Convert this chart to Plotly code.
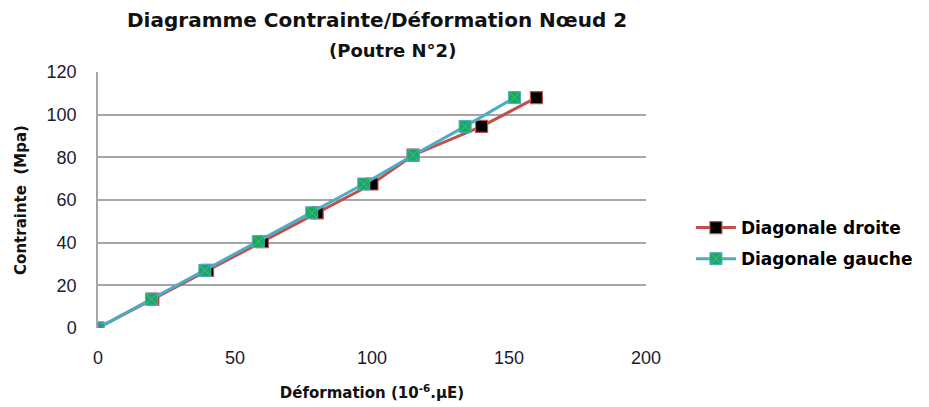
import plotly.graph_objects as go

# Data
stress = [0, 13.5, 27, 40.5, 54, 67.5, 81, 94.5, 108]
strain_droite = [0, 20, 40, 60, 80, 100, 115, 140, 160]
strain_gauche = [0, 19.5, 39, 58.5, 78, 97, 115, 134, 152]
x_ticks = [0, 50, 100, 150, 200]
y_ticks = [0, 20, 40, 60, 80, 100, 120]

fig = go.Figure()
fig.add_trace(go.Scatter(
    x=strain_droite, y=stress, mode="lines+markers", name="Diagonale droite",
    legendgroup="a",
    line=dict(color="#c0504d", width=3),
    marker=dict(symbol="square", size=12, color="#000000",
                line=dict(color="#c0504d", width=1.2)),
))
fig.add_trace(go.Scatter(
    x=strain_gauche, y=stress, mode="lines+markers", name="Diagonale gauche",
    legendgroup="b",
    line=dict(color="#4bacc6", width=3),
    marker=dict(symbol="square-x", size=12, color="#1aab58",
                line=dict(color="#4bacc6", width=1)),
))
fig.add_trace(go.Scatter(
    x=[strain_droite[0]], y=[stress[0]], mode="markers", showlegend=False,
    marker=dict(symbol="circle", size=9, color="#4f81bd"),
))

bold = "DejaVu Sans, sans-serif"
tick_font = dict(family="Liberation Sans Narrow, Arial Narrow, sans-serif", size=18, color="#1a1a33")
fig.update_layout(
    width=929, height=407,
    margin=dict(l=98, r=282, t=72, b=79),
    paper_bgcolor="white", plot_bgcolor="white",
    font=dict(family=bold, color="#111111"),
    showlegend=True,
    legend=dict(x=1.08, y=0.33, xanchor="left", yanchor="middle",
                font=dict(family=bold, size=17, color="#000000", weight="bold"),
                bgcolor="rgba(0,0,0,0)", tracegroupgap=6, itemwidth=40),
    xaxis=dict(range=[0, 200], tickvals=x_ticks, showgrid=False, zeroline=False,
               showline=False, tickfont=tick_font, ticks="", ticklabelstandoff=17,
               title=dict(text="Déformation (10<sup>-6</sup>.µE)",
                          font=dict(family=bold, size=15, weight="bold", color="#111111"),
                          standoff=20)),
    yaxis=dict(range=[0, 120], tickvals=y_ticks, showgrid=True, gridcolor="#a6a6a6",
               gridwidth=1.5, zeroline=False, showline=True, linecolor="#a6a6a6",
               linewidth=1.5, tickfont=tick_font, ticks="", ticklabelstandoff=16,
               title=dict(text="Contrainte  (Mpa)",
                          font=dict(family=bold, size=15, weight="bold", color="#111111"),
                          standoff=16)),
    annotations=[
        dict(text="Diagramme Contrainte/Déformation Nœud 2", xref="paper", yref="paper",
             x=(378 - 98) / 549, y=1 + (72 - 20) / 256, xanchor="center", yanchor="middle",
             showarrow=False, font=dict(family=bold, size=20, weight="bold", color="#111111")),
        dict(text="(Poutre N°2)", xref="paper", yref="paper",
             x=(393 - 98) / 549, y=1 + (72 - 50) / 256, xanchor="center", yanchor="middle",
             showarrow=False, font=dict(family=bold, size=18, weight="bold", color="#111111")),
    ],
)
fig.update_xaxes(automargin=False)
fig.update_yaxes(automargin=False)
fig.write_html("out.html")
